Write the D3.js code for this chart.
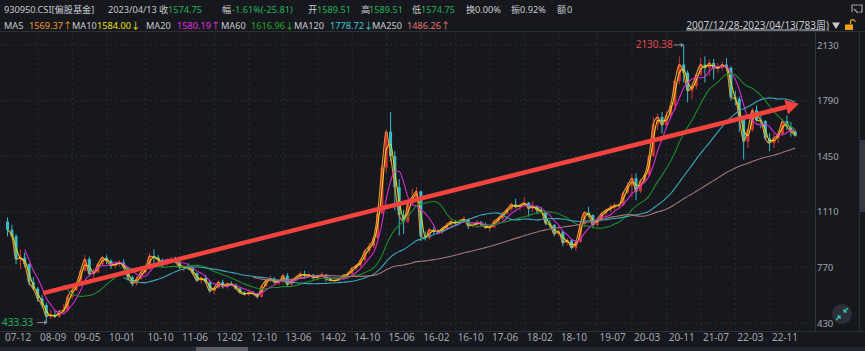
<!DOCTYPE html>
<html>
<head>
<meta charset="utf-8">
<script src="https://cdn.jsdelivr.net/npm/d3@7"></script>
<style>
body { margin: 0; background: #16181d; overflow: hidden; }
svg { display: block; font-family: "Noto Sans", "Noto Sans CJK SC", sans-serif; }
</style>
</head>
<body>
<svg id="chart" width="865" height="351"></svg>
<script>
// monthly bars, 2008-01 .. 2023-04
const months = d3.timeMonth.range(new Date(2008, 0, 1), new Date(2023, 4, 1))

const open = [
  1050,1000,960,820,830,790,680,640,580,540,470,480,
  470,500,510,590,630,670,750,820,730,740,790,830,
  810,780,790,800,770,710,670,700,740,760,840,830,
  815,790,815,820,805,770,775,765,735,690,705,680,
  625,645,680,650,670,665,640,615,605,615,610,590,
  655,690,700,680,680,720,665,690,710,730,720,725,
  705,715,725,700,690,690,700,720,730,765,780,815,
  870,900,950,1100,1380,1600,1450,1260,1090,1050,1160,1200,
  1235,960,950,1000,990,990,1010,1030,1050,1040,1055,1065,
  1025,1030,1045,1035,1015,1015,1050,1070,1100,1125,1155,1140,
  1150,1165,1130,1145,1120,1110,1040,1030,975,990,920,935,
  890,925,1035,1105,1090,1030,1065,1100,1120,1135,1150,1150,
  1225,1270,1315,1235,1300,1335,1450,1645,1690,1640,1700,1760,
  1910,2010,1960,1850,1880,1950,2010,1990,2020,1990,1990,2010,
  1990,1810,1800,1680,1540,1610,1730,1670,1665,1560,1530,1560,
  1585,1665,1630,1600
]
const high = [
  1075,1030,975,880,860,795,710,650,600,555,510,505,
  510,545,600,640,680,755,845,835,760,800,840,845,
  820,805,815,820,775,720,715,755,770,860,880,845,
  825,825,835,835,810,785,795,775,740,715,725,685,
  650,690,695,680,685,670,650,625,625,625,615,660,
  700,720,710,695,730,735,700,720,745,750,735,730,
  725,740,730,715,700,710,730,745,775,790,825,880,
  920,960,1110,1400,1610,1720,1480,1310,1120,1170,1250,1260,
  1240,990,1010,1015,1005,1020,1045,1065,1060,1065,1085,1070,
  1045,1060,1055,1045,1025,1060,1080,1105,1130,1165,1190,1160,
  1200,1170,1175,1150,1140,1115,1060,1035,1005,995,950,940,
  930,1045,1115,1140,1095,1075,1105,1130,1155,1165,1165,1230,
  1290,1340,1345,1310,1345,1460,1690,1710,1720,1725,1780,1920,
  2060,2130.38,1975,1900,1960,2050,2060,2040,2045,2020,2030,2050,
  2000,1850,1815,1690,1620,1745,1760,1700,1670,1590,1590,1610,
  1680,1700,1660,1610
]
const low = [
  960,950,790,760,770,660,630,560,520,433.33,455,460,
  462,490,500,580,625,665,745,715,705,735,780,790,
  760,765,775,760,690,655,660,695,730,755,790,800,
  770,780,795,795,760,745,755,725,680,670,670,615,
  605,640,640,640,655,635,610,598,595,600,580,585,
  650,680,670,660,675,650,655,685,705,710,705,695,
  690,705,685,685,678,685,695,710,725,750,770,800,
  855,890,945,1095,1350,1420,1120,965,975,1040,1150,1180,
  930,935,940,975,970,975,1000,1020,1030,1035,1045,1005,
  1015,1025,1020,1005,990,1010,1040,1060,1090,1115,1130,1120,
  1140,1080,1110,1095,1100,1030,1010,960,960,900,905,880,
  870,920,1020,1075,1010,1020,1055,1080,1110,1125,1130,1145,
  1220,1200,1180,1225,1285,1330,1445,1610,1590,1630,1680,1730,
  1890,1900,1780,1800,1860,1940,1900,1940,1920,1960,1975,1970,
  1790,1760,1600,1430,1500,1600,1660,1620,1550,1480,1500,1530,
  1580,1610,1570,1570
]
const close = [
  1000,960,820,830,790,680,640,580,540,470,480,470,
  500,510,590,630,670,750,820,730,740,790,830,810,
  780,790,800,770,710,670,700,740,760,840,830,815,
  790,815,820,805,770,775,765,735,690,705,680,625,
  645,680,650,670,665,640,615,605,615,610,590,655,
  690,700,680,680,720,665,690,710,730,720,725,705,
  715,725,700,690,690,700,720,730,765,780,815,870,
  900,950,1100,1380,1600,1450,1260,1090,1050,1160,1200,1235,
  960,950,1000,990,990,1010,1030,1050,1040,1055,1065,1025,
  1030,1045,1035,1015,1015,1050,1070,1100,1125,1155,1140,1150,
  1165,1130,1145,1120,1110,1040,1030,975,990,920,935,890,
  925,1035,1105,1090,1030,1065,1100,1120,1135,1150,1150,1225,
  1270,1315,1235,1300,1335,1450,1645,1690,1640,1700,1760,1910,
  2010,1960,1850,1880,1950,2010,1990,2020,1990,1990,2010,1990,
  1810,1800,1680,1540,1610,1730,1670,1665,1560,1530,1560,1585,
  1665,1630,1600,1574.75
]

// weekly MA lengths 5/10/20/60/120/250 expressed in months
const maNames = ['MA5', 'MA10', 'MA20', 'MA60', 'MA120', 'MA250']
const maPeriods = [1, 2, 5, 14, 28, 58]
const maColors = ['#e99a2c', '#e6d21e', '#d62ad6', '#1f8a2a', '#3aa7b6', '#a97272']
const maValues = ['1569.37↑', '1584.00↓', '1580.19↑', '1616.96↓', '1778.72↓', '1486.26↑']
const maTextColors = ['#f0962a', '#e8e01a', '#e02ee0', '#26a62e', '#3fc4d2', '#e27474']

const timeLabels = ['07-12','08-09','09-05','10-01','10-10','11-06','12-02','12-10','13-06','14-02','14-10',
  '15-06','16-02','16-10','17-06','18-02','18-10','19-07','20-03','20-11','21-07','22-03','22-11']
const priceTicks = [430, 770, 1110, 1450, 1790, 2130]

// trend arrow drawn on the chart: [date, price]
const trendFrom = [new Date(2008, 8, 22), 613]
const trendTo = [new Date(2023, 4, 10), 1770]

const green = '#22b45a', txt = '#c6c8cd', grid = '#2a2d34', fs = 9.2

const svg = d3.select('#chart')
const x = d3.scaleTime().domain([new Date(2007, 11, 28), new Date(2023, 3, 13)]).range([5, 795])
const y = d3.scaleLinear().domain([430, 2130]).range([323, 45])
const barDate = months.map(m => d3.timeDay.offset(m, 14))
const parseTick = d3.timeParse('%y-%m')
const tickX = s => Math.max(5, x(parseTick(s)))

// grid
svg.append('g').selectAll('line').data(priceTicks).join('line')
  .attr('x1', 0).attr('x2', 815)
  .attr('y1', d => y(d)).attr('y2', d => y(d))
  .attr('stroke', grid).attr('stroke-dasharray', '2,3')
svg.append('g').selectAll('line').data(timeLabels.slice(1)).join('line')
  .attr('x1', d => tickX(d) - 2).attr('x2', d => tickX(d) - 2)
  .attr('y1', 33).attr('y2', 331)
  .attr('stroke', grid).attr('stroke-dasharray', '2,3')

// frame
svg.append('line').attr('x1', 0).attr('x2', 865).attr('y1', 31.5).attr('y2', 31.5).attr('stroke', '#2c2f36')
svg.append('line').attr('x1', 0).attr('x2', 865).attr('y1', 331.5).attr('y2', 331.5).attr('stroke', '#2c2f36')
svg.append('line').attr('x1', 815.5).attr('x2', 815.5).attr('y1', 32).attr('y2', 331).attr('stroke', '#33363d')
svg.append('line').attr('x1', 859.5).attr('x2', 859.5).attr('y1', 32).attr('y2', 331).attr('stroke', '#2c2f36')
svg.append('rect').attr('x', 860).attr('y', 140).attr('width', 5).attr('height', 72).attr('fill', '#34373e')

// axes
const yAxis = svg.append('g').attr('transform', 'translate(815,0)')
  .call(d3.axisRight(y).tickValues(priceTicks).tickSize(0).tickPadding(2).tickFormat(d3.format('d')))
yAxis.select('.domain').remove()
yAxis.selectAll('text').attr('fill', '#a3a5aa').attr('font-size', 9.5)
  .attr('font-family', '"Noto Sans", sans-serif')

const xAxis = svg.append('g').attr('transform', 'translate(0,333)')
  .call(d3.axisBottom(x).tickValues(timeLabels.map(s => parseTick(s))).tickSize(0).tickPadding(1)
    .tickFormat(d3.timeFormat('%y-%m')))
xAxis.select('.domain').remove()
xAxis.selectAll('.tick').attr('transform', d => `translate(${Math.max(5, x(d))},0)`)
xAxis.selectAll('text').attr('text-anchor', 'start').attr('fill', '#a3a5aa').attr('font-size', 10)
  .attr('font-family', '"Noto Sans", sans-serif')

// candles
const bars = svg.append('g').selectAll('g').data(months).join('g')
  .attr('stroke', (d, i) => close[i] >= open[i] ? '#d33338' : '#37bccb')
  .attr('fill', (d, i) => close[i] >= open[i] ? '#d33338' : '#37bccb')
bars.append('line')
  .attr('x1', (d, i) => x(barDate[i])).attr('x2', (d, i) => x(barDate[i]))
  .attr('y1', (d, i) => y(high[i])).attr('y2', (d, i) => y(low[i]))
bars.append('rect')
  .attr('stroke', 'none')
  .attr('x', (d, i) => x(barDate[i]) - 1.5).attr('width', 3)
  .attr('y', (d, i) => y(Math.max(open[i], close[i])))
  .attr('height', (d, i) => Math.max(1, Math.abs(y(open[i]) - y(close[i]))))

// moving averages
const movingAvg = n => close.map((c, i) => i < n - 1 ? null : d3.mean(close.slice(i - n + 1, i + 1)))
const line = d3.line().defined(d => d != null)
  .x((d, i) => x(barDate[i])).y(d => y(d)).curve(d3.curveMonotoneX)
maPeriods.forEach((n, k) => {
  svg.append('path').datum(movingAvg(n))
    .attr('fill', 'none').attr('stroke', maColors[k]).attr('stroke-width', 1.1)
    .attr('d', line)
})

// trend arrow
const ax1 = x(trendFrom[0]), ay1 = y(trendFrom[1]), ax2 = x(trendTo[0]), ay2 = y(trendTo[1])
const ang = Math.atan2(ay2 - ay1, ax2 - ax1)
const headLen = 13, headW = 7.5
const bx = ax2 - headLen * Math.cos(ang), by = ay2 - headLen * Math.sin(ang)
svg.append('line').attr('x1', ax1).attr('y1', ay1).attr('x2', bx).attr('y2', by)
  .attr('stroke', '#f4433f').attr('stroke-width', 4.5)
svg.append('path').attr('fill', '#f4433f')
  .attr('d', `M${ax2},${ay2}L${bx - headW * Math.sin(ang)},${by + headW * Math.cos(ang)}L${bx + headW * Math.sin(ang)},${by - headW * Math.cos(ang)}Z`)

// extreme labels
const iLow = d3.minIndex(low), iHigh = d3.maxIndex(high)
const lx = x(barDate[iLow]) + 2, ly = y(low[iLow])
svg.append('line').attr('x1', lx - 11).attr('x2', lx - 1).attr('y1', ly).attr('y2', ly).attr('stroke', '#8a8c92')
svg.append('path').attr('d', `M${lx - 1},${ly}l-3,-2.5v5z`).attr('fill', '#8a8c92')
svg.append('text').attr('x', lx - 15).attr('y', ly + 3.5).attr('text-anchor', 'end')
  .attr('fill', green).attr('font-size', 10).text(d3.format('.2f')(low[iLow]))
const hx = x(barDate[iHigh]), hy = y(high[iHigh])
svg.append('line').attr('x1', hx - 10).attr('x2', hx).attr('y1', hy).attr('y2', hy).attr('stroke', '#8a8c92')
svg.append('path').attr('d', `M${hx},${hy}l-3,-2.5v5z`).attr('fill', '#8a8c92')
svg.append('text').attr('x', hx - 11).attr('y', hy + 3.5).attr('text-anchor', 'end')
  .attr('fill', '#e0464c').attr('font-size', 10).text(d3.format('.2f')(high[iHigh]))

// header
const head1 = [
  [4, '930950.CSI[偏股基金]', txt], [108, '2023/04/13', txt], [159, '收', txt], [168, '1574.75', green],
  [222, '幅', txt], [232, '-1.61%(-25.81)', green], [308, '开', txt], [317, '1589.51', green],
  [361, '高', txt], [369, '1589.51', green], [412, '低', txt], [421, '1574.75', green],
  [466, '换', txt], [475, '0.00%', txt], [511, '振', txt], [520, '0.92%', txt], [557, '额', txt], [567, '0', txt]
]
const head2x = [[4, 29], [72, 97], [146, 177], [221, 251], [294, 330], [372, 407]]
const header = svg.append('g').attr('font-size', fs)
header.selectAll('.h1').data(head1).join('text').attr('class', 'h1')
  .attr('x', d => d[0]).attr('y', 12.5).attr('fill', d => d[2]).text(d => d[1])
maNames.forEach((n, k) => {
  header.append('text').attr('x', head2x[k][0]).attr('y', 28.5).attr('fill', txt).text(n)
  header.append('text').attr('x', head2x[k][1]).attr('y', 28.5).attr('fill', maTextColors[k]).text(maValues[k])
})
header.append('text').attr('x', 829).attr('y', 28.5).attr('fill', txt).attr('text-anchor', 'end')
  .attr('font-size', 10).attr('text-decoration', 'underline').text('2007/12/28-2023/04/13(783周)')
header.append('path').attr('d', 'M832,22.5h8l-4,6.5z').attr('fill', '#c6c8cd')
// lock + popout icons
svg.append('rect').attr('x', 845).attr('y', 24.5).attr('width', 8).attr('height', 5.5).attr('fill', '#e8a020')
svg.append('path').attr('d', 'M850.5,24.5v-2.5a2.3,2.3 0 0 1 4.6,0').attr('fill', 'none').attr('stroke', '#e8a020').attr('stroke-width', 1.2)
svg.append('path').attr('d', 'M852,12v-7h10v7h-3M854,9l4,4').attr('fill', 'none').attr('stroke', '#a0a2a8').attr('stroke-width', 1.2)

// zoom button
svg.append('circle').attr('cx', 842).attr('cy', 314).attr('r', 10).attr('fill', '#2c2f36')
svg.append('path').attr('d', 'M848,308l-4,4M844,309v3h3M836,320l4,-4M840,319v-3h-3')
  .attr('fill', 'none').attr('stroke', '#35c6c8').attr('stroke-width', 1.2)

// scrollbar strip
svg.append('rect').attr('x', 0).attr('y', 347).attr('width', 865).attr('height', 4).attr('fill', '#24272d')
svg.append('rect').attr('x', 196).attr('y', 347).attr('width', 52).attr('height', 4).attr('fill', '#5a5e67')
</script>
</body>
</html>
